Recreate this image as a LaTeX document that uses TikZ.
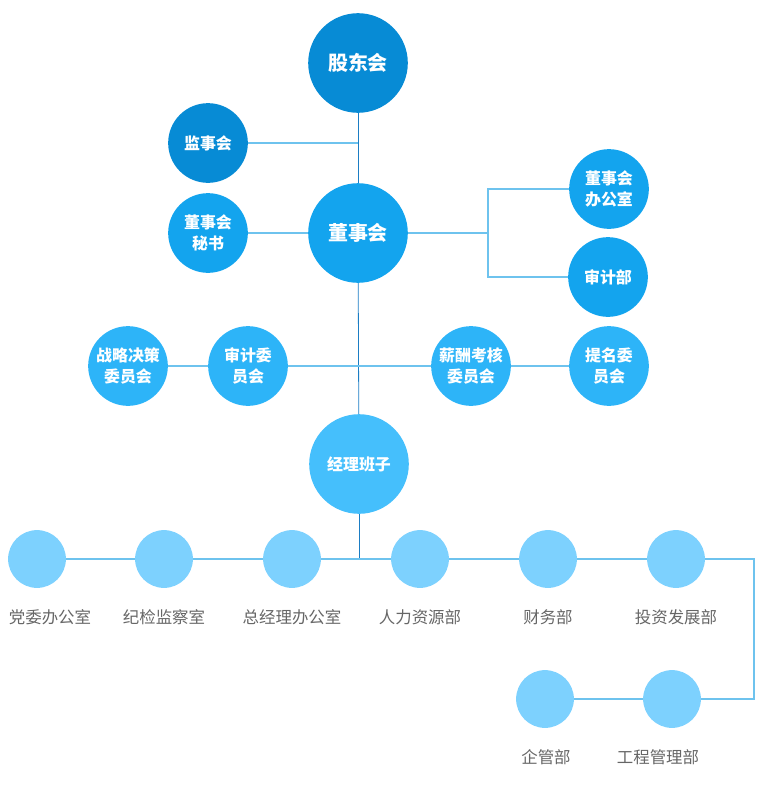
\documentclass[tikz,border=0pt]{standalone}
\usepackage{fontspec}
\setmainfont{Noto Sans CJK SC}
\usepackage{tikz}
\usetikzlibrary{shapes}

\definecolor{cA}{HTML}{078BD5}
\definecolor{cB}{HTML}{13A4EE}
\definecolor{cC}{HTML}{2DB4F8}
\definecolor{cD}{HTML}{45BFFC}
\definecolor{cE}{HTML}{7DD1FE}
\definecolor{lnA}{HTML}{6EC3EE}
\definecolor{lnB}{HTML}{1B7DC4}
\definecolor{txt}{HTML}{666666}

\tikzset{
  big/.style={circle, fill=#1, minimum size=100, inner sep=0pt, text=white,
    font=\fontsize{20}{22}\selectfont\bfseries},
  small/.style={circle, fill=#1, minimum size=80, inner sep=0pt, text=white, align=center,
    font=\fontsize{16}{21}\selectfont\bfseries},
  dept/.style={circle, fill=cE, minimum size=58, inner sep=0pt},
  lbl/.style={text=txt, inner sep=0pt, font=\fontsize{16.5}{18}\selectfont},
  ln/.style={draw=lnA, line width=1.3},
  main/.style={draw=lnB, line width=0.8}
}

\begin{document}
\begin{tikzpicture}[x=1bp, y=-1bp]
					\useasboundingbox (0,0) rectangle (765,806);
					\node[big=cA] (1) at (358,63) {股东会};
					\node[small=cA] (2) at (208,143) {监事会};
					\node[big=cB] (3) at (358,233) {董事会};
					\node[small=cB] (4) at (208,233) {董事会\\秘书};
					\node[small=cB] (5) at (609,189) {董事会\\办公室};
					\node[small=cB] (6) at (608,277) {审计部};
					\node[small=cC] (7) at (128,366) {战略决策\\委员会};
					\node[small=cC] (8) at (248,366) {审计委\\员会};
					\node[small=cC] (9) at (471,366) {薪酬考核\\委员会};
					\node[small=cC] (10) at (609,366) {提名委\\员会};
					\node[big=cD, font=\fontsize{16}{18}\selectfont\bfseries] (11) at (359,464) {经理班子};
					\node[dept] (12) at (37,559) {};
					\node[dept] (13) at (164,559) {};
					\node[dept] (14) at (292,559) {};
					\node[dept] (15) at (420,559) {};
					\node[dept] (16) at (548,559) {};
					\node[dept] (17) at (676,559) {};
					\node[dept] (18) at (545,699) {};
					\node[dept] (19) at (672,699) {};
					\node[lbl] (l12) at (50,617) {党委办公室};
					\node[lbl] (l13) at (164,617) {纪检监察室};
					\node[lbl] (l14) at (292,617) {总经理办公室};
					\node[lbl] (l15) at (420,617) {人力资源部};
					\node[lbl] (l16) at (548,617) {财务部};
					\node[lbl] (l17) at (676,617) {投资发展部};
					\node[lbl] (l18) at (546,757) {企管部};
					\node[lbl] (l19) at (658,757) {工程管理部};
					\coordinate (j) at (488,233);
					\coordinate (m) at (359,366);
					\coordinate (b) at (359,559);
					\coordinate (r1) at (754,559);
					\coordinate (r2) at (754,699);
					% links
					\draw[main] (1) -- (3);
					\draw[main] (3) -- (11);
					\draw[main] (11) -- (b);
					\draw[ln] (2) -- (2 -| 1);
					\draw[ln] (4) -- (3);
					\draw[ln] (3) -- (j);
					\draw[ln] (5) -| (j) |- (6);
					\draw[ln] (7) -- (8);
					\draw[ln] (8) -- (m);
					\draw[ln] (m) -- (9);
					\draw[ln] (9) -- (10);
					\draw[ln] (12) -- (13);
					\draw[ln] (13) -- (14);
					\draw[ln] (14) -- (15);
					\draw[ln] (15) -- (16);
					\draw[ln] (16) -- (17);
					\draw[ln] (17) -- (r1) -- (r2) -- (19);
					\draw[ln] (19) -- (18);
				\end{tikzpicture}
\end{document}
